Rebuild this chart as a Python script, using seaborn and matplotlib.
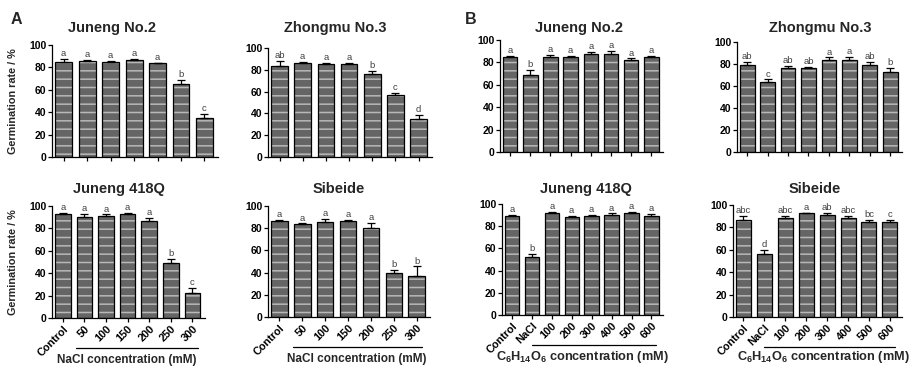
import numpy as np
import pandas as pd
import matplotlib
matplotlib.use("Agg")
import matplotlib.pyplot as plt
import seaborn as sns
from matplotlib.transforms import blended_transform_factory

# ---------------- data ----------------
nacl_labels = ["Control", "50", "100", "150", "200", "250", "300"]
sorb_labels = ["Control", "NaCl", "100", "200", "300", "400", "500", "600"]

a_jn2_mean = [84.5, 85.5, 85, 86.5, 83.5, 65.5, 35]
a_jn2_err = [3, 1, 1, 1.2, 0.8, 3.5, 3.5]
a_jn2_let = ["a", "a", "a", "a", "a", "b", "c"]

a_zm3_mean = [83.5, 86.5, 85, 85, 76, 56.5, 34.5]
a_zm3_err = [4.5, 0.8, 1.5, 1, 3, 2, 4]
a_zm3_let = ["ab", "a", "a", "a", "b", "c", "d"]

a_jq_mean = [92.5, 90.5, 91.5, 92.5, 87, 49.5, 22]
a_jq_err = [1, 2.5, 1, 1, 2, 3.5, 4.5]
a_jq_let = ["a", "a", "a", "a", "a", "b", "c"]

a_sb_mean = [86.5, 83.5, 86, 86.5, 80, 39.5, 36.5]
a_sb_err = [1, 0.8, 2, 0.8, 4.5, 3, 9]
a_sb_let = ["a", "a", "a", "a", "a", "b", "b"]

b_jn2_mean = [84.5, 69, 84.5, 84.5, 87.5, 87.5, 82, 84.5]
b_jn2_err = [1, 4, 2, 1, 1.5, 2.5, 1.5, 1]
b_jn2_let = ["a", "b", "a", "a", "a", "a", "a", "a"]

b_zm3_mean = [79.5, 64, 76.5, 76.5, 84, 84, 79, 72.5]
b_zm3_err = [2, 2, 2, 1.2, 2, 2.5, 3, 4]
b_zm3_let = ["ab", "c", "ab", "ab", "a", "a", "ab", "b"]

b_jq_mean = [89, 52, 92, 88.5, 89.5, 90.5, 91.5, 89.5]
b_jq_err = [1, 3, 1, 1, 1, 1, 1, 1.5]
b_jq_let = ["a", "b", "a", "a", "a", "a", "a", "a"]

b_sb_mean = [87, 56, 88, 92.5, 91.5, 88.5, 85, 85]
b_sb_err = [3, 3.5, 2, 0.5, 1.5, 2, 1.5, 1.5]
b_sb_let = ["abc", "d", "abc", "a", "ab", "abc", "bc", "c"]

titles = ["Juneng No.2", "Zhongmu No.3", "Juneng 418Q", "Sibeide"]
y_ticks = [0, 20, 40, 60, 80, 100]
ylabel_text = "Germination rate / %"
nacl_xlabel = "NaCl concentration (mM)"
sorb_xlabel = r"$\mathbf{C_6H_{14}O_6}$ concentration (mM)"

# ---------------- style ----------------
sns.set_theme(style="ticks")
plt.rcParams["font.family"] = ["Liberation Sans", "DejaVu Sans"]
plt.rcParams["font.weight"] = "bold"
plt.rcParams["mathtext.fontset"] = "custom"
plt.rcParams["mathtext.bf"] = "Liberation Sans:bold"
plt.rcParams["mathtext.rm"] = "Liberation Sans:bold"
plt.rcParams["mathtext.it"] = "Liberation Sans:bold"
plt.rcParams["hatch.linewidth"] = 1.1

W, H = 910, 366
fig = plt.figure(figsize=(W / 100, H / 100), dpi=100)


def rect(l, r, t, b):
    return [l / W, 1 - b / H, (r - l) / W, (b - t) / H]


def draw(ax, labels, mean, err, letters, show_x, line_rng):
    df = pd.DataFrame({"cond": labels, "val": mean})
    sns.barplot(data=df, x="cond", y="val", ax=ax, color="#656565",
                edgecolor="#b8b8b8", linewidth=0, hatch="--", width=0.72,
                errorbar=None, saturation=1)
    sns.barplot(data=df, x="cond", y="val", ax=ax, color="black",
                fill=False, linewidth=0.9, width=0.72, errorbar=None)
    xs = np.arange(len(labels))
    ax.errorbar(xs, mean, yerr=[np.zeros(len(mean)), err], fmt="none",
                ecolor="black", elinewidth=0.9, capsize=2.8, capthick=0.9)
    for x, m, e, t in zip(xs, mean, err, letters):
        ax.text(x, m + e + 0.8, t, ha="center", va="bottom", fontsize=6.8,
                fontweight="normal", color="#404040", clip_on=False)
    ax.set_ylim(0, 100)
    ax.set_xlim(-0.5, len(labels) - 0.42)
    ax.set_yticks(y_ticks)
    ax.set_yticklabels([str(v) for v in y_ticks], fontsize=7.5, fontweight="bold")
    ax.set_xlabel("")
    ax.set_ylabel("")
    sns.despine(ax=ax)
    for s in ["left", "bottom"]:
        ax.spines[s].set_linewidth(0.9)
        ax.spines[s].set_color("black")
    ax.tick_params(axis="both", length=3, width=0.9, pad=1, colors="black")
    ax.set_xticks(xs)
    if show_x:
        ax.set_xticklabels(labels, rotation=45, ha="right",
                           rotation_mode="anchor", fontsize=7.8,
                           fontweight="bold")
        tr = blended_transform_factory(ax.transData, ax.transAxes)
        ax.plot(line_rng, [-0.27, -0.27], transform=tr, color="black",
                lw=0.9, clip_on=False)
    else:
        ax.set_xticklabels([])


panels = [
    (nacl_labels, a_jn2_mean, a_jn2_err, a_jn2_let, (52, 218, 45, 157), (112, 32), titles[0], False),
    (nacl_labels, a_zm3_mean, a_zm3_err, a_zm3_let, (268, 432, 48, 157), (335, 32), titles[1], False),
    (nacl_labels, a_jq_mean, a_jq_err, a_jq_let, (52, 205, 206, 318), (119, 193), titles[2], True),
    (nacl_labels, a_sb_mean, a_sb_err, a_sb_let, (268, 430, 206, 317), (339, 193), titles[3], True),
    (sorb_labels, b_jn2_mean, b_jn2_err, b_jn2_let, (500, 663, 40, 152), (579, 32), titles[0], False),
    (sorb_labels, b_zm3_mean, b_zm3_err, b_zm3_let, (737, 902, 42, 152), (820, 32), titles[1], False),
    (sorb_labels, b_jq_mean, b_jq_err, b_jq_let, (502, 663, 204, 315), (586, 193), titles[2], True),
    (sorb_labels, b_sb_mean, b_sb_err, b_sb_let, (733, 902, 205, 317), (815, 193), titles[3], True),
]

xlabels_pos = {2: (127, 360), 3: (357, 359), 6: (582, 357), 7: (823, 357)}

for i, (labels, mean, err, lets, box, tpos, title, show_x) in enumerate(panels):
    ax = fig.add_axes(rect(*box))
    line_rng = [0.6, 6.25] if len(labels) == 7 else [1.0, 7.25]
    draw(ax, labels, mean, err, lets, show_x, line_rng)
    fig.text(tpos[0] / W, 1 - tpos[1] / H, title, ha="center", va="baseline",
             fontsize=10.5, fontweight="bold")
    if i in (0, 2):
        l, r, t, b = box
        ax.yaxis.set_label_coords((18 - l) / (r - l), 0.5)
        ax.set_ylabel(ylabel_text, fontsize=7.8, fontweight="bold")
    if i in xlabels_pos:
        x, y = xlabels_pos[i]
        txt = nacl_xlabel if len(labels) == 7 else sorb_xlabel
        fig.text(x / W, 1 - y / H, txt, ha="center", va="center",
                 fontsize=8.5 if len(labels) == 7 else 9.2,
                 fontweight="bold")

fig.text(16 / W, 1 - 20 / H, "A", ha="center", va="center", fontsize=11.5,
         fontweight="bold")
fig.text(471 / W, 1 - 20 / H, "B", ha="center", va="center", fontsize=11.5,
         fontweight="bold")

fig.savefig("out.png", dpi=100)
